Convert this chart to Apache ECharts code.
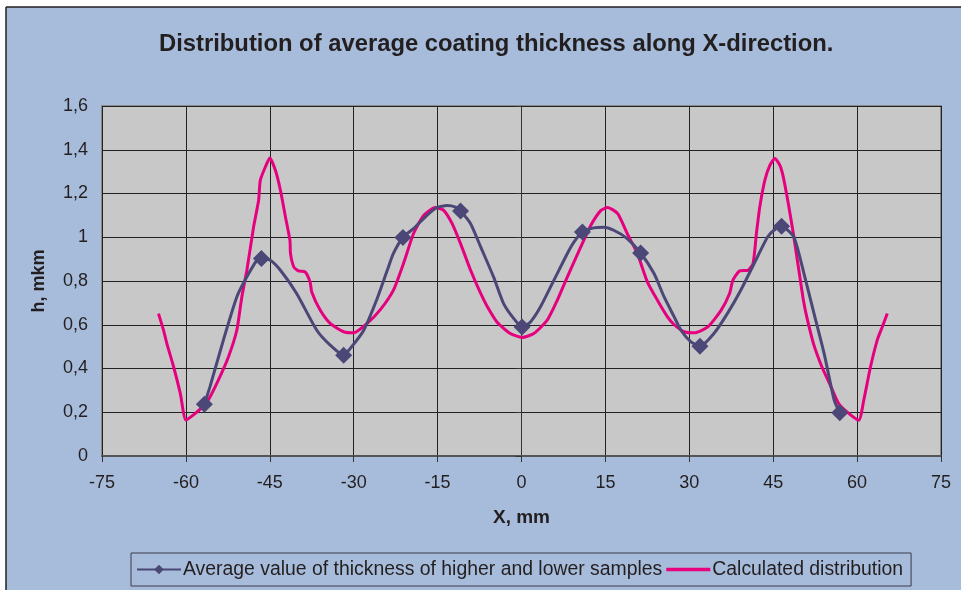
<!DOCTYPE html>
<html>
<head>
<meta charset="utf-8">
<script src="https://cdn.jsdelivr.net/npm/echarts@6/dist/echarts.min.js"></script>
<style>
  html, body { margin: 0; padding: 0; background: #fff; }
  #chart { width: 961px; height: 590px; }
</style>
</head>
<body>
<div id="chart"></div>
<script>
// measured thickness, line trace between samples
const avgLine = [
  [-55.7, 0.316], [-53.3, 0.53], [-50.9, 0.727], [-49.1, 0.819], [-47.3, 0.895],
  [-44.9, 0.895], [-43.1, 0.849], [-40.2, 0.743], [-36.6, 0.575], [-34.2, 0.507],
  [-30.6, 0.492], [-28.2, 0.575], [-25.8, 0.72], [-24.0, 0.849], [-22.9, 0.926],
  [-19.3, 1.04], [-16.9, 1.10], [-15.1, 1.136], [-13.3, 1.145], [-11.8, 1.138],
  [-9.1, 1.062], [-7.3, 0.956], [-5.0, 0.819], [-3.2, 0.697], [-1.4, 0.629],
  [1.6, 0.613], [3.4, 0.682], [5.8, 0.804], [8.2, 0.926], [9.4, 0.979],
  [12.9, 1.043], [14.7, 1.046], [16.5, 1.032], [18.9, 0.994],
  [23.7, 0.834], [25.5, 0.727], [27.3, 0.636], [28.5, 0.575], [30.3, 0.522],
  [34.4, 0.56], [36.8, 0.651], [39.2, 0.758], [41.6, 0.88], [44.0, 1.001], [45.5, 1.04],
  [48.7, 1.001], [50.5, 0.834], [52.3, 0.651], [54.1, 0.469], [55.9, 0.256]
];
// sample points (shown with markers)
const avgSamples = [
  [-56.7, 0.237], [-46.5, 0.903], [-31.8, 0.461], [-21.2, 0.999], [-10.9, 1.12],
  [0.1, 0.59], [10.9, 1.024], [21.3, 0.928], [31.9, 0.502], [46.5, 1.05], [56.9, 0.198]
];
const calcLine = [
  [-64.9, 0.651], [-64.0, 0.575], [-63.4, 0.514], [-62.2, 0.408], [-61.0, 0.286],
  [-60.0, 0.164], [-58.7, 0.187], [-57.5, 0.213], [-56.0, 0.256], [-54.2, 0.347],
  [-52.4, 0.453], [-50.9, 0.575], [-50.0, 0.727], [-49.1, 0.849], [-47.9, 1.047],
  [-47.0, 1.169], [-46.7, 1.26], [-45.8, 1.321], [-45.0, 1.362], [-44.0, 1.306],
  [-43.1, 1.215], [-42.2, 1.093], [-41.4, 0.986], [-41.3, 0.925], [-40.7, 0.864],
  [-39.9, 0.846], [-38.7, 0.842], [-37.8, 0.796], [-37.5, 0.75], [-36.0, 0.667],
  [-34.2, 0.606], [-31.8, 0.568], [-30.0, 0.563], [-27.6, 0.606], [-25.2, 0.67],
  [-22.9, 0.758], [-21.1, 0.88], [-19.3, 1.017], [-17.5, 1.10], [-15.4, 1.136],
  [-13.9, 1.123], [-12.4, 1.062], [-10.9, 0.971], [-9.1, 0.849], [-7.3, 0.743],
  [-6.1, 0.682], [-4.4, 0.613], [-2.0, 0.56], [0.1, 0.542], [2.2, 0.56],
  [4.6, 0.621], [6.4, 0.712], [8.2, 0.819], [10.6, 0.956], [12.4, 1.055],
  [14.2, 1.123], [15.4, 1.136], [17.2, 1.108], [18.9, 1.017], [20.7, 0.926],
  [22.5, 0.796], [24.3, 0.712], [26.1, 0.636], [27.3, 0.6], [29.1, 0.568],
  [30.9, 0.563], [33.3, 0.59], [35.7, 0.667], [37.2, 0.743], [37.8, 0.804],
  [39.0, 0.846], [40.5, 0.849], [41.4, 0.88], [42.0, 1.017], [42.6, 1.138],
  [43.5, 1.26], [44.4, 1.329], [45.3, 1.36], [46.2, 1.329], [46.8, 1.276],
  [47.7, 1.154], [48.6, 1.017], [49.5, 0.864], [50.4, 0.712], [51.0, 0.636],
  [52.2, 0.514], [53.7, 0.408], [55.2, 0.324], [56.7, 0.24], [58.5, 0.195],
  [60.3, 0.164], [61.2, 0.256], [62.4, 0.408], [63.6, 0.53], [64.5, 0.59], [65.4, 0.651]
];

const avgName = 'Average value of thickness of higher and lower samples';
const calcName = 'Calculated distribution';
const textColor = '#231F20';
const font = 'Liberation Sans, Arial, sans-serif';

// merge trace + samples, only samples get a marker
const avgData = avgLine.map((p) => ({ value: p, symbol: 'none' }))
  .concat(avgSamples.map((p) => ({ value: p })))
  .sort((a, b) => a.value[0] - b.value[0]);

const myChart = echarts.init(document.getElementById('chart'));

const option = {
  backgroundColor: '#A7BBDA',
  animation: false,
  textStyle: { fontFamily: font },
  graphic: [
    { type: 'rect', shape: { x: 0, y: 0, width: 961, height: 7 }, style: { fill: '#fff' } },
    { type: 'rect', shape: { x: 0, y: 0, width: 6, height: 590 }, style: { fill: '#fff' } },
    { type: 'line', shape: { x1: 6, y1: 7, x2: 961, y2: 7 }, style: { stroke: textColor, lineWidth: 1.5 } },
    { type: 'line', shape: { x1: 6, y1: 7, x2: 6, y2: 590 }, style: { stroke: textColor, lineWidth: 1.5 } }
  ],
  title: {
    text: 'Distribution of average coating thickness along X-direction.',
    left: 154,
    top: 27,
    textStyle: { fontSize: 23.8, fontWeight: 'bold', color: textColor, fontFamily: font }
  },
  grid: {
    left: 102,
    right: 20,
    top: 106,
    bottom: 134,
    show: true,
    backgroundColor: '#C8C8C9',
    borderColor: '#8A8A8A',
    borderWidth: 2
  },
  legend: {
    left: 131,
    top: 553,
    padding: [7, 8, 7, 5],
    itemGap: 4,
    itemWidth: 44,
    itemHeight: 12,
    borderColor: '#3A3A4A',
    borderWidth: 1,
    textStyle: { fontSize: 19.4, color: textColor, fontFamily: font, padding: [0, 0, 0, -3] },
    data: [
      { name: avgName },
      { name: calcName, icon: 'path://M0,0h40v3h-40z' }
    ]
  },
  xAxis: {
    type: 'value',
    min: -75,
    max: 75,
    interval: 15,
    name: 'X, mm',
    nameLocation: 'middle',
    nameGap: 52,
    nameTextStyle: { fontSize: 19, fontWeight: 'bold', color: textColor, fontFamily: font },
    axisLine: { show: true, lineStyle: { color: '#555', width: 2 } },
    axisTick: { show: true, length: 6, lineStyle: { color: '#333' } },
    axisLabel: { fontSize: 18, color: textColor, margin: 18, fontFamily: font },
    splitLine: { show: true, lineStyle: { color: '#222', width: 1 } }
  },
  yAxis: {
    type: 'value',
    min: 0,
    max: 1.6,
    interval: 0.2,
    name: 'h, mkm',
    nameLocation: 'middle',
    nameGap: 54,
    nameTextStyle: { fontSize: 18, fontWeight: 'bold', color: textColor, fontFamily: font },
    axisLine: { show: true, lineStyle: { color: '#333', width: 1 } },
    axisTick: { show: true, length: 6, lineStyle: { color: '#333' } },
    axisLabel: {
      fontSize: 18,
      color: textColor,
      margin: 14,
      fontFamily: font,
      formatter: (v) => String(Math.round(v * 10) / 10).replace('.', ',')
    },
    splitLine: { show: true, lineStyle: { color: '#222', width: 1 } }
  },
  series: [
    {
      name: avgName,
      type: 'line',
      data: avgData,
      smooth: 0.2,
      symbol: 'diamond',
      symbolSize: 17,
      showAllSymbol: true,
      lineStyle: { color: '#4B4777', width: 3 },
      itemStyle: { color: '#4B4777' },
      z: 3
    },
    {
      name: calcName,
      type: 'line',
      data: calcLine,
      smooth: 0.2,
      symbol: 'none',
      lineStyle: { color: '#E6007E', width: 3 },
      itemStyle: { color: '#E6007E' },
      z: 2
    }
  ]
};

myChart.setOption(option);
</script>
</body>
</html>
